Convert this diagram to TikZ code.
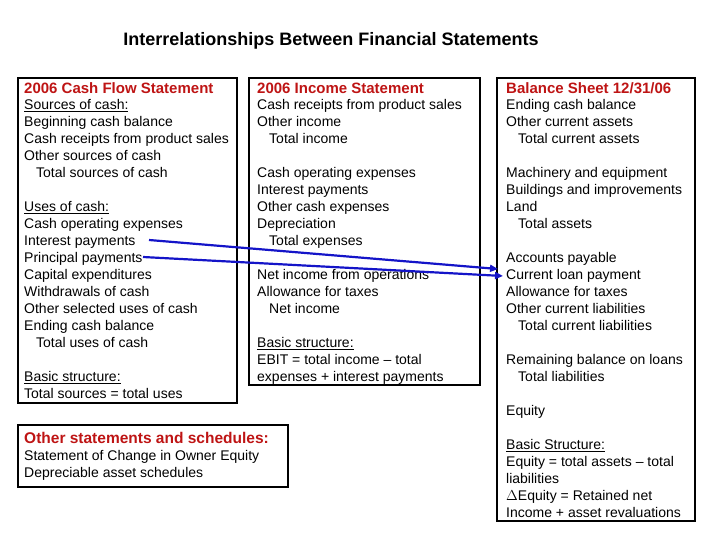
\documentclass[tikz,border=0pt]{standalone}
\usepackage{fontspec}
\setmainfont{Liberation Sans}
\usetikzlibrary{arrows.meta}
\newcommand{\ind}{\hspace*{12pt}}
\definecolor{headred}{RGB}{190,20,20}
\tikzset{
  body/.style={anchor=north west,inner sep=0pt,align=left,font=\fontsize{14}{17}\selectfont},
  head/.style={anchor=base west,inner sep=0pt,text=headred,font=\fontsize{15}{17}\selectfont\bfseries},
  frame/.style={draw=black,line width=1.6pt},
  link/.style={draw={rgb,255:red,20;green,20;blue,200},line width=2.2pt,-{Triangle[length=8pt,width=7pt]}}
}
\begin{document}
\begin{tikzpicture}[x=1pt,y=-1pt]
\useasboundingbox (0,0) rectangle (720,540);
\node[anchor=base,inner sep=0pt,font=\fontsize{18}{20}\selectfont\bfseries] (title) at (331,46) {Interrelationships Between Financial Statements};
% frames
\draw[frame] (18,78) rectangle (237,403);
\draw[frame] (249,78) rectangle (480,385);
\draw[frame] (497,78) rectangle (695,521);
\draw[frame] (18,425) rectangle (288,487);
% headers
\node[head] (cfhead) at (24,94) {2006 Cash Flow Statement};
\node[head] (ishead) at (257,94) {2006 Income Statement};
\node[head] (bshead) at (506,94) {Balance Sheet 12/31/06};
\node[head,font=\fontsize{15.5}{17}\selectfont\bfseries] (oshead) at (24,443) {Other statements and schedules:};
% bodies
\node[body] (cf) at (24,99) {\underline{Sources of cash:}\\ Beginning cash balance\\ Cash receipts from product sales\\ Other sources of cash\\ \ind Total sources of cash\\[17pt]
\underline{Uses of cash:}\\ Cash operating expenses\\ Interest payments\\ Principal payments\\ Capital expenditures\\ Withdrawals of cash\\ Other selected uses of cash\\ Ending cash balance\\ \ind Total uses of cash\\[17pt]
\underline{Basic structure:}\\ Total sources = total uses};
\node[body] (is) at (257,99) {Cash receipts from product sales\\ Other income\\ \ind Total income\\[17pt]
Cash operating expenses\\ Interest payments\\ Other cash expenses\\ Depreciation\\ \ind Total expenses\\[17pt]
Net income from operations\\ Allowance for taxes\\ \ind Net income\\[17pt]
\underline{Basic structure:}\\ EBIT = total income -- total\\ expenses + interest payments};
\node[body] (bs) at (506,99) {Ending cash balance\\ Other current assets\\ \ind Total current assets\\[17pt]
Machinery and equipment\\ Buildings and improvements\\ Land\\ \ind Total assets\\[17pt]
Accounts payable\\ Current loan payment\\ Allowance for taxes\\ Other current liabilities\\ \ind Total current liabilities\\[17pt]
Remaining balance on loans\\ \ind Total liabilities\\[17pt]
Equity\\[17pt]
\underline{Basic Structure:}\\ Equity = total assets -- total\\ liabilities\\ $\Delta$Equity = Retained net\\ Income + asset revaluations};
\node[body] (os) at (24,450) {Statement of Change in Owner Equity\\ Depreciable asset schedules};
% links
\coordinate (intpay) at (149,240);
\coordinate (prinpay) at (143,257);
\coordinate (loanA) at (498,269);
\coordinate (loanB) at (503,276);
\draw[link] (intpay) -- (loanA);
\draw[link] (prinpay) -- (loanB);
\end{tikzpicture}
\end{document}
